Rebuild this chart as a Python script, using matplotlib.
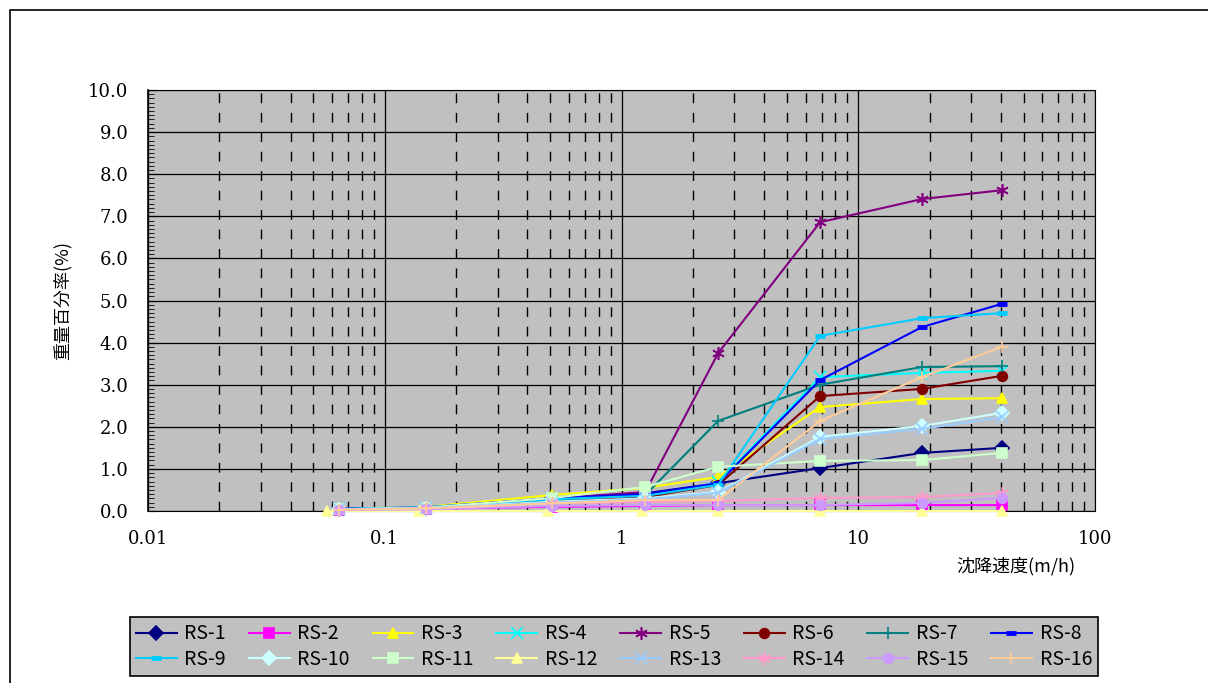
import numpy as np
import matplotlib
matplotlib.use("Agg")
import matplotlib.pyplot as plt
from matplotlib.patches import Rectangle
from matplotlib.ticker import FixedLocator, MultipleLocator, NullFormatter

plt.rcParams['font.family'] = ['Noto Sans CJK JP', 'DejaVu Sans']

# settling velocity (m/h)
speed = [0.064, 0.15, 0.51, 1.26, 2.56, 6.9, 18.6, 40.4]
speed_rs12 = [0.057, 0.14, 0.49, 1.22, 2.55, 6.9, 18.6, 40.4]

# weight percentage (%)
rs1 = [0.05, 0.08, 0.30, 0.42, 0.66, 1.02, 1.38, 1.50]
rs2 = [0.02, 0.05, 0.10, 0.12, 0.14, 0.14, 0.14, 0.14]
rs3 = [0.04, 0.10, 0.38, 0.55, 0.81, 2.47, 2.66, 2.68]
rs4 = [0.05, 0.08, 0.25, 0.33, 0.68, 3.18, 3.28, 3.33]
rs5 = [0.05, 0.08, 0.30, 0.45, 3.75, 6.86, 7.41, 7.62]
rs6 = [0.04, 0.07, 0.22, 0.33, 0.62, 2.73, 2.90, 3.21]
rs7 = [0.05, 0.08, 0.26, 0.38, 2.14, 3.00, 3.42, 3.44]
rs8 = [0.05, 0.09, 0.30, 0.40, 0.66, 3.11, 4.37, 4.92]
rs9 = [0.05, 0.09, 0.28, 0.36, 0.62, 4.16, 4.58, 4.70]
rs10 = [0.04, 0.07, 0.22, 0.30, 0.45, 1.76, 2.02, 2.33]
rs11 = [0.04, 0.08, 0.31, 0.57, 1.05, 1.19, 1.21, 1.38]
rs12 = [0.01, 0.01, 0.01, 0.01, 0.01, 0.01, 0.01, 0.01]
rs13 = [0.04, 0.07, 0.20, 0.28, 0.43, 1.71, 1.95, 2.23]
rs14 = [0.03, 0.06, 0.18, 0.21, 0.24, 0.31, 0.33, 0.43]
rs15 = [0.02, 0.04, 0.12, 0.14, 0.14, 0.14, 0.19, 0.31]
rs16 = [0.03, 0.06, 0.18, 0.26, 0.26, 2.14, 3.18, 3.90]

names = ['RS-%d' % i for i in range(1, 17)]
values = [rs1, rs2, rs3, rs4, rs5, rs6, rs7, rs8,
          rs9, rs10, rs11, rs12, rs13, rs14, rs15, rs16]
colors = ['#000080', '#FF00FF', '#FFFF00', '#00FFFF', '#800080', '#800000', '#008080', '#0000FF',
          '#00CCFF', '#CCFFFF', '#CCFFCC', '#FFFF99', '#99CCFF', '#FF99CC', '#CC99FF', '#FFCC99']
asterisk = (6, 2, 0)
markers = ['D', 's', '^', 'x', asterisk, 'o', '+', '_',
           '_', 'D', 's', '^', 'x', asterisk, 'o', '+']

fig = plt.figure(figsize=(12.08, 6.83), dpi=100)
fig.patches.append(Rectangle((10 / 1208, -0.1), 1.2, 1 - 10 / 683 + 0.1,
                             transform=fig.transFigure, fill=False,
                             edgecolor='black', linewidth=1.2))

ax = fig.add_axes([148 / 1208, 1 - 511 / 683, (1095 - 148) / 1208, (511 - 90) / 683])
ax.set_facecolor('#C0C0C0')

handles = []
for i, (name, y) in enumerate(zip(names, values)):
    xs = speed_rs12 if name == 'RS-12' else speed
    m = markers[i]
    ms = 7
    mew = 1.2
    if m == '_':
        ms = 7
        mew = 3.5
    elif m in ('x', '+') or m == asterisk:
        ms = 9
        mew = 1.2
    h, = ax.plot(xs, y, color=colors[i], marker=m, markersize=ms, markeredgewidth=mew,
                 linewidth=1.5, label=name, clip_on=False, zorder=3 + i * 0.01)
    handles.append(h)

ax.set_xscale('log')
ax.set_xlim(0.01, 100)
ax.set_ylim(0, 10)

ax.xaxis.set_major_locator(FixedLocator([0.01, 0.1, 1, 10, 100]))
ax.set_xticklabels(['0.01', '0.1', '1', '10', '100'])
minor = [m * d for d in [0.01, 0.1, 1, 10] for m in range(2, 10)]
ax.xaxis.set_minor_locator(FixedLocator(minor))
ax.xaxis.set_minor_formatter(NullFormatter())
ax.yaxis.set_major_locator(MultipleLocator(1))
ax.yaxis.set_minor_locator(MultipleLocator(0.1))
ax.yaxis.set_major_formatter(matplotlib.ticker.FormatStrFormatter('%.1f'))

ax.grid(which='major', axis='both', color='black', linewidth=0.9, linestyle='-')
ax.grid(which='minor', axis='x', color='black', linewidth=1.0, linestyle=(0, (7, 7)))
ax.set_axisbelow(True)

ax.tick_params(axis='x', which='both', length=0, pad=14, labelsize=13)
ax.tick_params(axis='y', which='major', direction='in', length=6, pad=14, labelsize=13)
ax.tick_params(axis='y', which='minor', direction='in', length=4)
for lab in ax.get_xticklabels() + ax.get_yticklabels():
    lab.set_family('DejaVu Serif')

for s in ax.spines.values():
    s.set_color('black')
    s.set_linewidth(0.8)
ax.spines['left'].set_linewidth(1.2)

ax.set_ylabel('重量百分率(%)', fontsize=13, labelpad=12)
fig.text(1075 / 1208, 1 - 566 / 683, '沈降速度(m/h)', ha='right', va='center', fontsize=13)

# legend filled row by row
order = [0, 8, 1, 9, 2, 10, 3, 11, 4, 12, 5, 13, 6, 14, 7, 15]
leg = fig.legend([handles[k] for k in order], [names[k] for k in order],
                 ncol=8, loc='lower left', mode='expand',
                 bbox_to_anchor=(130 / 1208, 1 - 676 / 683, (1098 - 130) / 1208, (676 - 612) / 683),
                 borderaxespad=0, fontsize=14, frameon=True, fancybox=False,
                 handlelength=2.1, handletextpad=0.4, columnspacing=0.6,
                 labelspacing=0.25, borderpad=0.3)
leg.get_frame().set_facecolor('#C0C0C0')
leg.get_frame().set_edgecolor('black')
leg.get_frame().set_linewidth(1.2)
leg.get_frame().set_alpha(1)

fig.savefig('out.png', dpi=100)
